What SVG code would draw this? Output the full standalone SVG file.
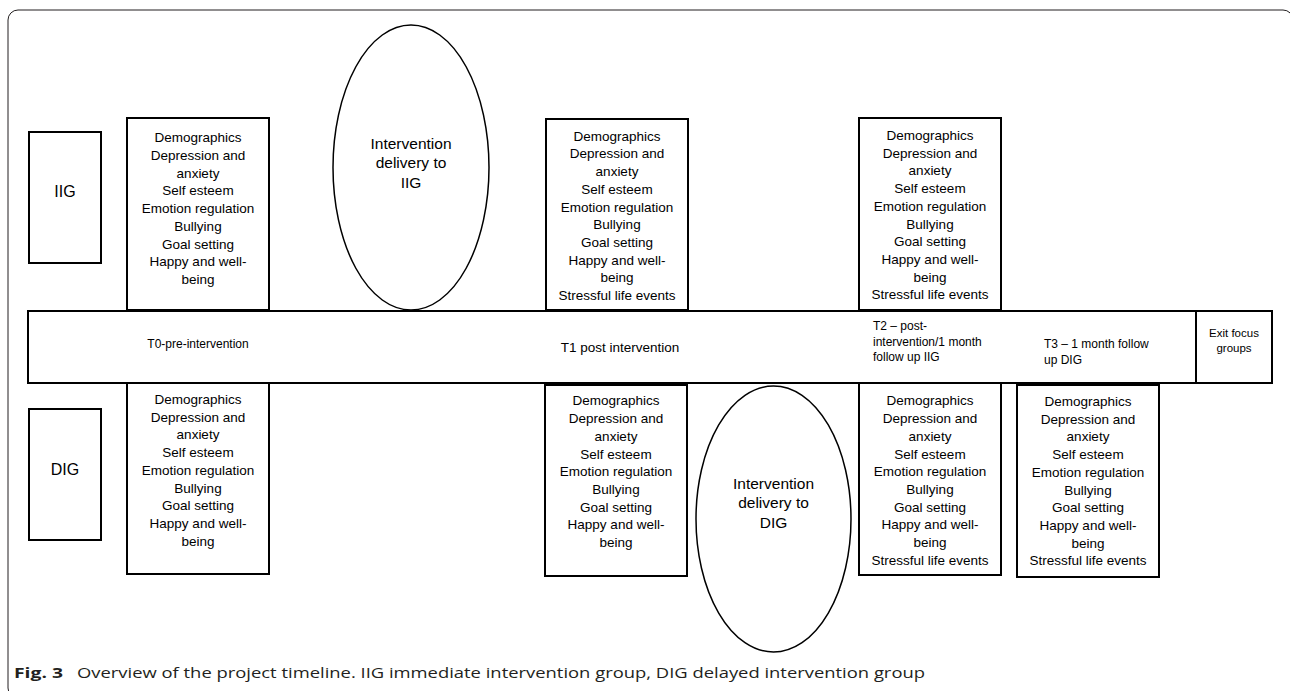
<svg xmlns="http://www.w3.org/2000/svg" width="1290" height="691" viewBox="0 0 1290 691">
<style>
.bx{fill:#fff;stroke:#000;stroke-width:2}
.el{fill:#fff;stroke:#000;stroke-width:1.5}
.t{font-family:"Liberation Sans",Arial,sans-serif;font-size:13.5px;fill:#000;text-anchor:middle}
.g{font-family:"Liberation Sans",Arial,sans-serif;font-size:16px;fill:#000;text-anchor:middle}
.e{font-family:"Liberation Sans",Arial,sans-serif;font-size:15.5px;fill:#000;text-anchor:middle}
.s{font-family:"Liberation Sans",Arial,sans-serif;font-size:12px;fill:#000}
.cap{font-family:"Open Sans","Liberation Sans",sans-serif;font-size:15px;fill:#231f20}
</style>
<rect width="1290" height="691" fill="#fff"/>
<rect x="8" y="10" width="1285" height="688" rx="10" ry="10" fill="none" stroke="#231f20" stroke-width="1"/>

<g id="timeline">
<rect class="bx" x="28" y="311" width="1244" height="72"/>
<text class="s" x="198" y="347.5" text-anchor="middle">T0-pre-intervention</text>
<text class="s" x="620" y="351.5" text-anchor="middle" style="font-size:13.5px">T1 post intervention</text>
<text class="s" x="873" y="330"><tspan x="873">T2 – post-</tspan><tspan x="873" dy="15.5">intervention/1 month</tspan><tspan x="873" dy="15.5">follow up IIG</tspan></text>
<text class="s" x="1044" y="347.5"><tspan x="1044">T3 – 1 month follow</tspan><tspan x="1044" dy="16.5">up DIG</tspan></text>
</g>
<g id="exit">
<rect class="bx" x="1196" y="311" width="76" height="72"/>
<text class="s" x="1234" y="336.5" text-anchor="middle" style="font-size:11.5px"><tspan x="1234">Exit focus</tspan><tspan x="1234" dy="15.5">groups</tspan></text>
</g>

<g id="iig">
<rect class="bx" x="29" y="132" width="72" height="131"/>
<text class="g" x="65" y="196.7">IIG</text>
</g>
<g id="dig">
<rect class="bx" x="29" y="409" width="72" height="131"/>
<text class="g" x="65" y="474.5">DIG</text>
</g>

<g id="t0-iig">
<rect class="bx" x="127" y="118" width="142" height="192"/>
<text class="t" y="142"><tspan x="198">Demographics</tspan><tspan x="198" dy="17.75">Depression and</tspan><tspan x="198" dy="17.75">anxiety</tspan><tspan x="198" dy="17.75">Self esteem</tspan><tspan x="198" dy="17.75">Emotion regulation</tspan><tspan x="198" dy="17.75">Bullying</tspan><tspan x="198" dy="17.75">Goal setting</tspan><tspan x="198" dy="17.75">Happy and well-</tspan><tspan x="198" dy="17.75">being</tspan></text>
</g>

<g id="deliver-iig">
<ellipse class="el" cx="411" cy="167.5" rx="78" ry="142.5"/>
<text class="e" y="149"><tspan x="411">Intervention</tspan><tspan x="411" dy="19.4">delivery to</tspan><tspan x="411" dy="19.4">IIG</tspan></text>
</g>

<g id="t1-iig">
<rect class="bx" x="546" y="119" width="142" height="191"/>
<text class="t" y="140.7"><tspan x="617">Demographics</tspan><tspan x="617" dy="17.7">Depression and</tspan><tspan x="617" dy="17.7">anxiety</tspan><tspan x="617" dy="17.7">Self esteem</tspan><tspan x="617" dy="17.7">Emotion regulation</tspan><tspan x="617" dy="17.7">Bullying</tspan><tspan x="617" dy="17.7">Goal setting</tspan><tspan x="617" dy="17.7">Happy and well-</tspan><tspan x="617" dy="17.7">being</tspan><tspan x="617" dy="17.7">Stressful life events</tspan></text>
</g>

<g id="t2-iig">
<rect class="bx" x="859" y="118" width="142" height="192"/>
<text class="t" y="140"><tspan x="930">Demographics</tspan><tspan x="930" dy="17.7">Depression and</tspan><tspan x="930" dy="17.7">anxiety</tspan><tspan x="930" dy="17.7">Self esteem</tspan><tspan x="930" dy="17.7">Emotion regulation</tspan><tspan x="930" dy="17.7">Bullying</tspan><tspan x="930" dy="17.7">Goal setting</tspan><tspan x="930" dy="17.7">Happy and well-</tspan><tspan x="930" dy="17.7">being</tspan><tspan x="930" dy="17.7">Stressful life events</tspan></text>
</g>

<g id="t0-dig">
<rect class="bx" x="127" y="383" width="142" height="191"/>
<text class="t" y="404"><tspan x="198">Demographics</tspan><tspan x="198" dy="17.7">Depression and</tspan><tspan x="198" dy="17.7">anxiety</tspan><tspan x="198" dy="17.7">Self esteem</tspan><tspan x="198" dy="17.7">Emotion regulation</tspan><tspan x="198" dy="17.7">Bullying</tspan><tspan x="198" dy="17.7">Goal setting</tspan><tspan x="198" dy="17.7">Happy and well-</tspan><tspan x="198" dy="17.7">being</tspan></text>
</g>

<g id="t1-dig">
<rect class="bx" x="545" y="385" width="142" height="191"/>
<text class="t" y="405.4"><tspan x="616">Demographics</tspan><tspan x="616" dy="17.7">Depression and</tspan><tspan x="616" dy="17.7">anxiety</tspan><tspan x="616" dy="17.7">Self esteem</tspan><tspan x="616" dy="17.7">Emotion regulation</tspan><tspan x="616" dy="17.7">Bullying</tspan><tspan x="616" dy="17.7">Goal setting</tspan><tspan x="616" dy="17.7">Happy and well-</tspan><tspan x="616" dy="17.7">being</tspan></text>
</g>

<g id="deliver-dig">
<ellipse class="el" cx="773.5" cy="519" rx="77.5" ry="133"/>
<text class="e" y="488.5"><tspan x="773.5">Intervention</tspan><tspan x="773.5" dy="19.5">delivery to</tspan><tspan x="773.5" dy="19.5">DIG</tspan></text>
</g>

<g id="t2-dig">
<rect class="bx" x="859" y="383" width="142" height="192"/>
<text class="t" y="405.4"><tspan x="930">Demographics</tspan><tspan x="930" dy="17.7">Depression and</tspan><tspan x="930" dy="17.7">anxiety</tspan><tspan x="930" dy="17.7">Self esteem</tspan><tspan x="930" dy="17.7">Emotion regulation</tspan><tspan x="930" dy="17.7">Bullying</tspan><tspan x="930" dy="17.7">Goal setting</tspan><tspan x="930" dy="17.7">Happy and well-</tspan><tspan x="930" dy="17.7">being</tspan><tspan x="930" dy="17.7">Stressful life events</tspan></text>
</g>

<g id="t3-dig">
<rect class="bx" x="1017" y="385" width="142" height="192"/>
<text class="t" y="406"><tspan x="1088">Demographics</tspan><tspan x="1088" dy="17.7">Depression and</tspan><tspan x="1088" dy="17.7">anxiety</tspan><tspan x="1088" dy="17.7">Self esteem</tspan><tspan x="1088" dy="17.7">Emotion regulation</tspan><tspan x="1088" dy="17.7">Bullying</tspan><tspan x="1088" dy="17.7">Goal setting</tspan><tspan x="1088" dy="17.7">Happy and well-</tspan><tspan x="1088" dy="17.7">being</tspan><tspan x="1088" dy="17.7">Stressful life events</tspan></text>
</g>

<g id="connectors"></g>

<g id="caption">
<text class="cap" x="14" y="678" font-weight="bold" textLength="49" lengthAdjust="spacingAndGlyphs">Fig. 3</text>
<text class="cap" x="77" y="678" textLength="848" lengthAdjust="spacingAndGlyphs">Overview of the project timeline. IIG immediate intervention group, DIG delayed intervention group</text>
</g>
</svg>
